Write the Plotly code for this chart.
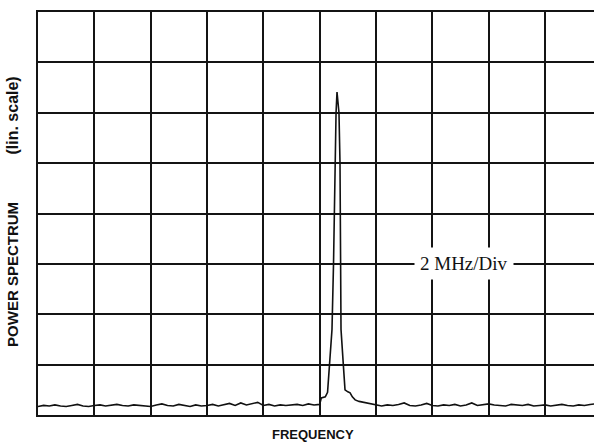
import plotly.graph_objects as go

# Frequency in grid divisions (2 MHz/Div), power in vertical divisions (linear scale)
freq_left = [0.0, 0.1, 0.2, 0.3, 0.4, 0.5, 0.6, 0.7, 0.8, 0.9,
             1.0, 1.1, 1.2, 1.3, 1.4, 1.5, 1.6, 1.7, 1.8, 1.9,
             2.0, 2.1, 2.2, 2.3, 2.4, 2.5, 2.6, 2.7, 2.8, 2.9,
             3.0, 3.1, 3.2, 3.3, 3.4, 3.5, 3.6, 3.7, 3.8, 3.9,
             4.0, 4.1, 4.2, 4.3, 4.4, 4.5, 4.6, 4.7, 4.8, 4.9, 5.0]
power_left = [0.17, 0.19, 0.18, 0.20, 0.18, 0.17, 0.19, 0.21, 0.18, 0.17,
              0.19, 0.20, 0.18, 0.19, 0.21, 0.19, 0.18, 0.20, 0.19, 0.18,
              0.17, 0.20, 0.22, 0.19, 0.18, 0.21, 0.19, 0.17, 0.20, 0.18,
              0.19, 0.21, 0.18, 0.20, 0.23, 0.19, 0.24, 0.20, 0.22, 0.25,
              0.19, 0.21, 0.18, 0.20, 0.19, 0.20, 0.21, 0.19, 0.22, 0.20, 0.21]

freq_peak = [5.03, 5.10, 5.14, 5.175, 5.219, 5.246, 5.273, 5.291, 5.308,
             5.343, 5.361, 5.37, 5.379, 5.42, 5.45, 5.50, 5.54, 5.58,
             5.63, 5.70, 5.75, 5.82, 5.89, 5.95, 6.02]
power_peak = [0.34, 0.36, 0.45, 1.0, 1.7, 3.0, 5.0, 6.0, 6.41,
              6.0, 5.0, 3.0, 1.7, 1.0, 0.5, 0.46, 0.44, 0.36,
              0.30, 0.27, 0.26, 0.24, 0.22, 0.21, 0.20]

freq_right = [6.1, 6.2, 6.3, 6.4, 6.5, 6.6, 6.7, 6.8, 6.9, 7.0,
              7.1, 7.2, 7.3, 7.4, 7.5, 7.6, 7.7, 7.8, 7.9, 8.0,
              8.1, 8.2, 8.3, 8.4, 8.5, 8.6, 8.7, 8.8, 8.9, 9.0,
              9.1, 9.2, 9.3, 9.4, 9.5, 9.6, 9.7, 9.8, 9.9]
power_right = [0.18, 0.20, 0.19, 0.21, 0.24, 0.19, 0.18, 0.20, 0.23, 0.19,
               0.18, 0.20, 0.19, 0.21, 0.18, 0.20, 0.24, 0.19, 0.21, 0.22,
               0.20, 0.19, 0.18, 0.21, 0.20, 0.19, 0.21, 0.18, 0.19, 0.20,
               0.18, 0.19, 0.21, 0.19, 0.18, 0.20, 0.19, 0.21, 0.22]

freq = freq_left + freq_peak + freq_right
power = power_left + power_peak + power_right

fig = go.Figure()
fig.add_trace(go.Scatter(x=freq, y=power, mode="lines",
                         line=dict(color="#111111", width=1.6),
                         showlegend=False, hoverinfo="skip"))

grid_col = "#141414"
fig.update_layout(
    width=594, height=445,
    margin=dict(l=38, r=0, t=12, b=30),
    paper_bgcolor="white", plot_bgcolor="white",
    xaxis=dict(range=[0, 9.87], dtick=1, tick0=0, showgrid=True,
               gridcolor=grid_col, gridwidth=2, zeroline=False,
               showline=True, linecolor=grid_col, linewidth=2, mirror=True,
               showticklabels=False, ticks=""),
    yaxis=dict(range=[0, 8], dtick=1, tick0=0, showgrid=True,
               gridcolor=grid_col, gridwidth=2, zeroline=False,
               showline=True, linecolor=grid_col, linewidth=2,
               showticklabels=False, ticks=""),
    annotations=[
        dict(text="<b>FREQUENCY</b>", xref="paper", yref="paper", x=0.4946, y=-0.0496,
             xanchor="center", yanchor="middle", showarrow=False,
             font=dict(family="Liberation Sans, Arial", size=13, color="#111111")),
        dict(text="<b>POWER SPECTRUM</b>", xref="paper", yref="paper",
             x=-0.045, y=0.35, xanchor="center", yanchor="middle", textangle=-90,
             showarrow=False,
             font=dict(family="Liberation Sans, Arial", size=15, color="#111111")),
        dict(text="<b>(lin. scale)</b>", xref="paper", yref="paper",
             x=-0.045, y=0.743, xanchor="center", yanchor="middle", textangle=-90,
             showarrow=False,
             font=dict(family="Liberation Sans, Arial", size=16, color="#111111")),
        dict(text="2 MHz/Div", xref="x", yref="y", x=7.56, y=3,
             xanchor="center", yanchor="middle", showarrow=False,
             bgcolor="white", borderpad=5,
             font=dict(family="Liberation Serif, Times New Roman", size=19, color="#111111")),
    ],
)
fig.write_html("out.html",
               config={"displayModeBar": False},
               post_script="document.body.style.margin='0px';")
